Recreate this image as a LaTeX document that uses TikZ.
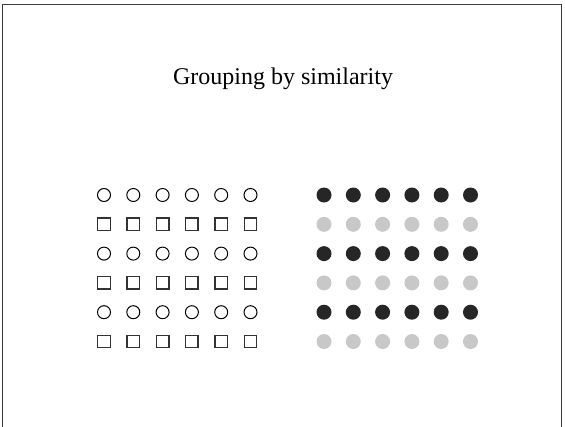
\documentclass[tikz,border=0pt]{standalone}
\usepackage{fontspec}
\setmainfont{Liberation Serif}
\usetikzlibrary{positioning}
\definecolor{dotdark}{RGB}{38,38,38}
\definecolor{dotlight}{RGB}{200,200,200}
\definecolor{framegray}{RGB}{60,60,60}

\begin{document}
\begin{tikzpicture}[
    x=1pt, y=-1pt,
    ring/.style={draw=black, circle, line width=1pt, minimum size=13pt, inner sep=0pt},
    box/.style={draw=black!80, rectangle, line width=1.4pt, minimum size=12.5pt, inner sep=0pt},
    dot/.style={circle, minimum size=15pt, inner sep=0pt},
    heading/.style={font=\fontsize{24}{28}\selectfont, inner sep=0pt}
]
  \useasboundingbox (0,0) rectangle (565,426);
  \draw[line width=1.3pt, framegray] (2.5,440) -- (2.5,4.5) -- (561.5,4.5) -- (561.5,440);

  \node[heading, anchor=base] (title) at (283,84) {Grouping by similarity};

  % left grid: rows of circles and squares
  \foreach \r in {0,2,4}
    \foreach \c in {0,...,5}
      \node[ring] (ring-\r-\c) at (104+29.3*\c, 195+29.3*\r) {};
  \foreach \r in {1,3,5}
    \foreach \c in {0,...,5}
      \node[box] (box-\r-\c) at (104+29.3*\c, 195+29.3*\r) {};

  % right grid: dark and light dots
  \foreach \r in {0,2,4}
    \foreach \c in {0,...,5}
      \node[dot, fill=dotdark] (dark-\r-\c) at (324+29.3*\c, 195+29.3*\r) {};
  \foreach \r in {1,3,5}
    \foreach \c in {0,...,5}
      \node[dot, fill=dotlight] (light-\r-\c) at (324+29.3*\c, 195+29.3*\r) {};
\end{tikzpicture}
\end{document}
